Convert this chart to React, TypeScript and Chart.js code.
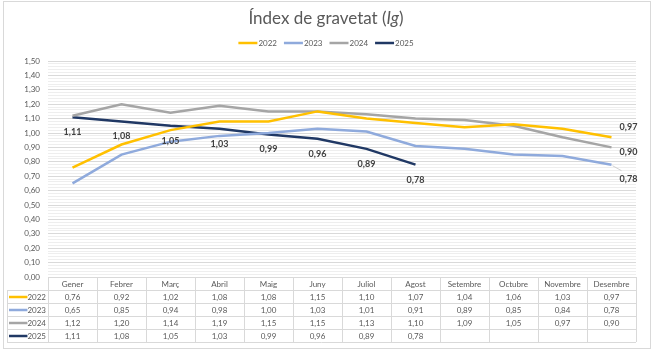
import React, { useEffect, useRef } from 'react';
import { Chart, registerables } from 'chart.js';
Chart.register(...registerables);

const MONTHS = ['Gener', 'Febrer', 'Març', 'Abril', 'Maig', 'Juny', 'Juliol', 'Agost', 'Setembre', 'Octubre', 'Novembre', 'Desembre'];
const SERIES_NAMES = ['2022', '2023', '2024', '2025'];
const Y2022 = [0.76, 0.92, 1.02, 1.08, 1.08, 1.15, 1.10, 1.07, 1.04, 1.06, 1.03, 0.97];
const Y2023 = [0.65, 0.85, 0.94, 0.98, 1.00, 1.03, 1.01, 0.91, 0.89, 0.85, 0.84, 0.78];
const Y2024 = [1.12, 1.20, 1.14, 1.19, 1.15, 1.15, 1.13, 1.10, 1.09, 1.05, 0.97, 0.90];
const Y2025 = [1.11, 1.08, 1.05, 1.03, 0.99, 0.96, 0.89, 0.78, null, null, null, null];
const COLORS = ['#FFC000', '#8FAADC', '#A5A5A5', '#203864'];
const Y_MIN = 0;
const Y_MAX = 1.5;

const FONT = 'Lato, "Open Sans", sans-serif';
const TXT = '#595959';
const GRID = '#d9d9d9';

const fmt = (v: number) => v.toFixed(2).replace('.', ',');

const decor = {
  id: 'decor',
  beforeDraw(chart: any) {
    const ctx = chart.ctx;
    ctx.save();
    ctx.strokeStyle = '#d9d9d9';
    ctx.lineWidth = 1;
    ctx.strokeRect(3.5, 1.5, 647, 347);
    ctx.restore();
  },
  afterDatasetsDraw(chart: any) {
    const ctx = chart.ctx;
    ctx.save();
    ctx.font = `bold 9px ${FONT}`;
    ctx.fillStyle = '#404040';
    ctx.textAlign = 'center';
    ctx.textBaseline = 'middle';
    const meta25 = chart.getDatasetMeta(3);
    Y2025.forEach((v, i) => {
      if (v == null) return;
      const p = meta25.data[i];
      ctx.fillText(fmt(v), p.x, p.y + 15);
    });
    const last = MONTHS.length - 1;
    const p22 = chart.getDatasetMeta(0).data[last];
    ctx.fillText(fmt(Y2022[last]), p22.x + 17, p22.y - 10);
    const p24 = chart.getDatasetMeta(2).data[last];
    ctx.fillText(fmt(Y2024[last]), p24.x + 17, p24.y + 5);
    const p23 = chart.getDatasetMeta(1).data[last];
    ctx.strokeStyle = '#bfbfbf';
    ctx.lineWidth = 0.7;
    ctx.beginPath();
    ctx.moveTo(p23.x + 1, p23.y + 1);
    ctx.lineTo(p23.x + 10, p23.y + 6);
    ctx.stroke();
    ctx.fillText(fmt(Y2023[last]), p23.x + 17, p23.y + 14);
    ctx.restore();
  },
  afterDraw(chart: any) {
    const ctx = chart.ctx;
    const xs = chart.scales.x;
    const area = chart.chartArea;
    ctx.save();
    // Title
    const cx = 326;
    const t1 = 'Índex de gravetat (';
    const t2 = 'Ig';
    const t3 = ')';
    ctx.textBaseline = 'middle';
    ctx.fillStyle = TXT;
    ctx.font = `17px ${FONT}`;
    const w1 = ctx.measureText(t1).width;
    const w3 = ctx.measureText(t3).width;
    ctx.font = `italic 17px ${FONT}`;
    const w2 = ctx.measureText(t2).width;
    const tx = cx - (w1 + w2 + w3) / 2;
    ctx.textAlign = 'left';
    ctx.font = `17px ${FONT}`;
    ctx.fillText(t1, tx, 19);
    ctx.font = `italic 17px ${FONT}`;
    ctx.fillText(t2, tx + w1, 19);
    ctx.font = `17px ${FONT}`;
    ctx.fillText(t3, tx + w1 + w2, 19);

    // Legend
    ctx.font = `8px ${FONT}`;
    const lineW = 19;
    const gap = 1;
    const itemGap = 7;
    const widths = SERIES_NAMES.map((n) => lineW + gap + ctx.measureText(n).width);
    const total = widths.reduce((a, b) => a + b, 0) + itemGap * (widths.length - 1);
    let lx = cx - total / 2;
    const ly = 43;
    SERIES_NAMES.forEach((n, i) => {
      ctx.strokeStyle = COLORS[i];
      ctx.lineWidth = 2.5;
      ctx.beginPath();
      ctx.moveTo(lx, ly);
      ctx.lineTo(lx + lineW, ly);
      ctx.stroke();
      ctx.fillStyle = TXT;
      ctx.textAlign = 'left';
      ctx.fillText(n, lx + lineW + gap, ly);
      lx += widths[i] + itemGap;
    });

    // Data table
    const colW = (area.right - area.left) / MONTHS.length;
    const top = area.bottom;
    const rowH = 13;
    const headerBottom = top + 13;
    const bottom = headerBottom + rowH * 4;
    const tableLeft = 7;
    ctx.strokeStyle = GRID;
    ctx.lineWidth = 1;
    ctx.beginPath();
    ctx.moveTo(area.left, top + 0.5);
    ctx.lineTo(area.right, top + 0.5);
    for (let r = 0; r <= 4; r++) {
      const y = Math.round(headerBottom + r * rowH) + 0.5;
      ctx.moveTo(tableLeft, y);
      ctx.lineTo(area.right, y);
    }
    for (let c = 0; c <= MONTHS.length; c++) {
      const x = Math.round(area.left + c * colW) + 0.5;
      ctx.moveTo(x, top);
      ctx.lineTo(x, bottom);
    }
    ctx.moveTo(tableLeft + 0.5, headerBottom);
    ctx.lineTo(tableLeft + 0.5, bottom);
    ctx.stroke();

    ctx.font = `8px ${FONT}`;
    ctx.fillStyle = TXT;
    ctx.textAlign = 'center';
    MONTHS.forEach((m, i) => {
      const x = xs.getPixelForValue(i);
      ctx.fillText(m, x, top + 7);
    });
    const all = [Y2022, Y2023, Y2024, Y2025];
    all.forEach((arr, r) => {
      const y = headerBottom + r * rowH + rowH / 2 + 0.5;
      ctx.font = `8px ${FONT}`;
      const nameW = ctx.measureText(SERIES_NAMES[r]).width;
      const nameRight = area.left - 2;
      ctx.strokeStyle = COLORS[r];
      ctx.lineWidth = 2.5;
      ctx.beginPath();
      ctx.moveTo(tableLeft + 2, y);
      ctx.lineTo(nameRight - nameW, y);
      ctx.stroke();
      ctx.fillStyle = TXT;
      ctx.textAlign = 'right';
      ctx.fillText(SERIES_NAMES[r], nameRight, y);
      ctx.textAlign = 'center';
      arr.forEach((v, i) => {
        if (v == null) return;
        ctx.fillText(fmt(v as number), xs.getPixelForValue(i), y);
      });
    });
    ctx.restore();
  },
};

export default function App() {
  const ref = useRef<HTMLCanvasElement>(null);
  useEffect(() => {
    if (!ref.current) return;
    const data = [Y2022, Y2023, Y2024, Y2025];
    const chart = new Chart(ref.current, {
      type: 'line',
      data: {
        labels: MONTHS,
        datasets: data.map((d, i) => ({
          label: SERIES_NAMES[i],
          data: d,
          borderColor: COLORS[i],
          backgroundColor: COLORS[i],
          borderWidth: 2.5,
          pointRadius: 0,
          tension: 0,
          spanGaps: false,
        })),
      },
      options: {
        animation: false,
        responsive: false,
        maintainAspectRatio: false,
        layout: { padding: { left: 8, right: 24, top: 61, bottom: 80 } },
        plugins: {
          legend: { display: false },
          title: { display: false },
          tooltip: { enabled: false },
        },
        scales: {
          x: {
            type: 'category',
            offset: true,
            display: false,
          },
          y: {
            min: Y_MIN,
            max: Y_MAX,
            afterFit: (s: any) => {
              s.width = 40;
            },
            border: { display: false },
            grid: {
              drawTicks: false,
              color: (c: any) =>
                c.tick && Math.round(c.tick.value * 100) % 10 === 0 ? GRID : '#eeeeee',
            },
            ticks: {
              stepSize: 0.02,
              maxTicksLimit: 200,
              autoSkip: false,
              padding: 8,
              color: TXT,
              font: { family: FONT, size: 8 },
              callback: (v: any) => {
                const n = Number(v);
                return Math.round(n * 100) % 10 === 0 ? fmt(n) : '';
              },
            },
          },
        },
      },
      plugins: [decor],
    });
    return () => chart.destroy();
  }, []);
  return (
    <div style={{ position: 'absolute', left: 0, top: 0, width: 660, height: 357, background: '#fff' }}>
      <canvas ref={ref} width={660} height={357} style={{ display: 'block', width: 660, height: 357 }} />
    </div>
  );
}
